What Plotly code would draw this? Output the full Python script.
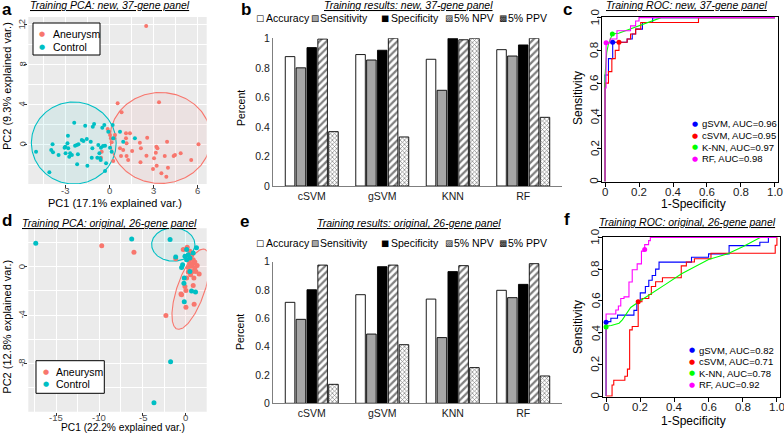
import numpy as np
import plotly.graph_objects as go

W, H = 784, 433

# ------------------------------------------------------------------ data
# (a) Training PCA: new, 37-gene panel
a_aneurysm_pc1 = [2.52, 0.57, 0.84, 3.40, -0.11, 0.0, 0.05, 0.11, 0.16, 0.34, 0.39, 1.14, 1.41, 1.14, 1.18,
                  0.73, 0.95, 0.80, 1.18, 1.56, 2.09, 2.16, 2.13, 2.59, 2.54, 3.22, 3.29, 3.18, 3.06, 3.24,
                  2.99, 3.56, 3.90, 3.95, 3.79, 4.01, 4.40, 4.49, 4.88, 5.60, 6.10, -0.52, -0.57, 0.27, 1.29]
a_aneurysm_pc2 = [11.8, 4.07, 3.17, 4.17, 1.5, 1.23, 0.9, 0.57, 0.17, 0.57, 0.9, 1.07, 1.07, 0.57, 0.07,
                  -0.43, -0.6, -1.2, -1.2, -0.7, 0.13, -0.43, -1.83, 0.63, -1.17, -0.27, -0.43, -0.87, -1.43, -2.17,
                  -2.5, -2.93, -3.27, 0.23, -1.2, -2.37, -1.2, -1.1, -0.93, -1.6, -0.03, -0.77, -1.37, -1.7, -1.6]
a_control_pc1 = [-5.01, -4.10, -3.88, -3.97, -3.85, -3.47, -3.06, -3.01, -2.83, -2.86, -2.81, -2.99, -2.68,
                 -2.74, -2.56, -2.34, -2.22, -2.11, -2.15, -2.20, -1.88, -1.77, -1.54, -1.27, -1.50, -2.40,
                 -1.65, -1.13, -1.04, -0.48, -0.34, -1.16, -1.20, -0.75, -0.82, -0.63, -0.59, -0.57, -0.43,
                 -0.29, -0.22, -0.29, 0.05, 0.23, 0.27, 0.73, 0.95, 1.75, -0.68, -0.07, 0.16]
a_control_pc2 = [-0.77, -2.83, -0.03, -0.6, -0.83, -1.1, -0.37, -0.27, 0.83, 0.07, -0.43, -0.93, -0.93,
                 -1.27, -1.1, -0.17, -0.1, -0.03, -1.03, -2.03, 0.4, 0.3, 0.5, 0.23, -2.17, 2.13,
                 1.83, 1.73, 2.0, 1.63, 1.9, -0.43, -1.37, -0.1, -1.37, -1.43, -1.6, -0.37, -0.2,
                 -0.17, -1.93, -2.7, -0.37, 1.9, 0.57, 1.23, 0.23, 0.57, -0.93, 1.23, -0.77]
# ellipse: centre x, centre y, axis-1 vector (x, y), axis-2 vector (x, y)
a_ellipse_aneurysm = [3.5, 0.6, 3.45, 0.0, 0.0, 4.55]
a_ellipse_control = [-2.43, 0.1, 2.9, 0.0, 0.0, 4.1]
a_xticks = [-3, 0, 3, 6]
a_yticks = [0, 4, 8, 12]

# (d) Training PCA: original, 26-gene panel
d_aneurysm_pc1 = [-9.72, -6.0, -2.31, -1.18, -0.31, 0.15, 0.46, 0.65, 0.38, 0.84, 1.03, 0.46, 0.77, 0.27,
                  0.65, 1.03, 1.30, 1.53, 0.77, 0.27, 0.92, 0.08, -0.11, 0.0, -0.50, 0.84, 0.0, 0.95,
                  1.15, 0.54, -0.57]
d_aneurysm_pc2 = [1.74, 1.19, -4.03, 0.65, 1.42, 1.61, 1.28, 0.94, 0.5, 0.58, 0.39, 0.22, 0.22, -0.06,
                  0.03, -0.11, 0.11, -0.61, -0.39, -0.44, -0.94, -0.94, -1.64, -1.97, -2.33, -1.56, -3.36, -3.11,
                  -0.39, -0.67, -2.25]
d_control_pc1 = [-17.34, -6.26, -1.77, -3.69, -1.83, -1.18, 0.08, 0.27, -0.11, 0.46, 0.84, 1.22, -0.50,
                 -0.38, -0.19, -0.23, 0.65, 1.11, -0.19, 0.08, 0.46]
d_control_pc2 = [1.94, 2.29, -7.86, -11.26, 2.25, 0.80, 1.42, 1.0, 0.86, 0.72, 1.14, 1.56, -0.06,
                 0.17, -0.94, -1.36, -2.0, -2.1, -2.89, 0.58, -0.39]
d_ellipse_aneurysm = [0.58, -1.86, 1.6, 3.3, 1.5, -0.38]
d_ellipse_control = [-1.46, 1.84, 2.5, 0.0, 0.0, 1.38]
d_xticks = [-15, -10, -5, 0]
d_yticks = [-8, -4, 0]

# (b, e) Training results
models = ["cSVM", "gSVM", "KNN", "RF"]
metrics = ["Accuracy", "Sensitivity", "Specificity", "5% NPV", "5% PPV"]
b_accuracy = [0.876, 0.89, 0.858, 0.923]
b_sensitivity = [0.80, 0.853, 0.648, 0.88]
b_specificity = [0.937, 0.919, 1.0, 0.955]
b_npv = [0.995, 1.0, 0.99, 1.0]
b_ppv = [0.368, 0.332, 1.0, 0.465]
e_accuracy = [0.713, 0.767, 0.736, 0.798]
e_sensitivity = [0.593, 0.489, 0.464, 0.746]
e_specificity = [0.802, 0.965, 0.93, 0.84]
e_npv = [0.976, 0.976, 0.972, 0.986]
e_ppv = [0.134, 0.414, 0.252, 0.193]
bar_ticks = [0, 0.2, 0.4, 0.6, 0.8, 1.0]
bar_ticktext = ["0", "0.2", "0.4", "0.6", "0.8", "1"]

# (c, f) Training ROC curves (1-specificity, sensitivity)
roc_names = ["gSVM", "cSVM", "K-NN", "RF"]
c_auc = ["0.96", "0.95", "0.97", "0.98"]
f_auc = ["0.82", "0.71", "0.78", "0.92"]
c_gsvm_fpr = [0, 0, 0.02, 0.02, 0.045, 0.045, 0.13, 0.13, 0.16, 0.16, 0.18, 0.18, 0.22, 0.22, 0.28, 0.28, 1.0]
c_gsvm_tpr = [0, 0.65, 0.65, 0.75, 0.75, 0.85, 0.85, 0.87, 0.87, 0.9, 0.9, 0.93, 0.93, 0.97, 0.97, 1.0, 1.0]
c_csvm_fpr = [0, 0, 0.02, 0.02, 0.04, 0.04, 0.06, 0.06, 0.082, 0.082, 0.13, 0.13, 0.15, 0.15, 0.18, 0.18,
              0.21, 0.21, 0.55, 0.55, 1.0]
c_csvm_tpr = [0, 0.6, 0.6, 0.67, 0.67, 0.75, 0.75, 0.8, 0.8, 0.85, 0.85, 0.87, 0.87, 0.9, 0.9, 0.93,
              0.93, 0.97, 0.97, 1.0, 1.0]
c_knn_fpr = [0, 0, 0.005, 0.01, 0.02, 0.03, 0.043, 0.08, 0.12, 0.16, 0.2, 0.25, 0.3, 0.33, 1.0]
c_knn_tpr = [0, 0.65, 0.72, 0.79, 0.84, 0.87, 0.9, 0.905, 0.92, 0.935, 0.95, 0.97, 0.985, 1.0, 1.0]
c_rf_fpr = [0, 0, 0.006, 0.006, 0.03, 0.03, 0.07, 0.07, 0.15, 0.15, 0.18, 0.18, 0.2, 0.2, 1.0]
c_rf_tpr = [0, 0.57, 0.57, 0.846, 0.846, 0.87, 0.87, 0.92, 0.92, 0.95, 0.95, 0.98, 0.98, 1.0, 1.0]
c_point_fpr = [0.045, 0.082, 0.043, 0.006]
c_point_tpr = [0.85, 0.85, 0.90, 0.846]

f_gsvm_fpr = [0, 0, 0.028, 0.028, 0.067, 0.067, 0.163, 0.163, 0.18, 0.18, 0.2, 0.2, 0.23, 0.23, 0.25, 0.25,
              0.27, 0.27, 0.29, 0.29, 0.31, 0.31, 0.5, 0.5, 0.6, 0.6, 0.72, 0.72, 0.9, 0.9, 0.95, 0.95, 1.0]
f_gsvm_tpr = [0, 0.469, 0.469, 0.49, 0.49, 0.51, 0.51, 0.54, 0.54, 0.6, 0.6, 0.65, 0.65, 0.69, 0.69, 0.73,
              0.73, 0.76, 0.76, 0.8, 0.8, 0.844, 0.844, 0.875, 0.875, 0.896, 0.896, 0.948, 0.948, 0.969, 0.969,
              1.0, 1.0]
f_csvm_fpr = [0, 0.035, 0.035, 0.045, 0.045, 0.11, 0.11, 0.125, 0.125, 0.138, 0.138, 0.153, 0.153, 0.188,
              0.188, 0.21, 0.21, 0.25, 0.25, 0.265, 0.265, 0.29, 0.29, 0.33, 0.33, 0.44, 0.44, 0.47, 0.47,
              0.517, 0.517, 0.614, 0.614, 0.99, 0.99, 1.0, 1.0]
f_csvm_tpr = [0, 0, 0.07, 0.07, 0.1, 0.1, 0.125, 0.125, 0.17, 0.17, 0.417, 0.417, 0.438, 0.438,
              0.594, 0.594, 0.615, 0.615, 0.64, 0.64, 0.69, 0.69, 0.72, 0.72, 0.745, 0.745, 0.82, 0.82, 0.845,
              0.845, 0.865, 0.865, 0.9, 0.9, 0.95, 0.95, 1.0]
f_knn_fpr = [0, 0, 0.03, 0.076, 0.095, 0.115, 0.144, 0.2, 0.249, 0.3, 0.35, 0.442, 0.5, 0.6, 0.712, 0.8, 0.905, 1.0]
f_knn_tpr = [0, 0.44, 0.445, 0.459, 0.48, 0.51, 0.558, 0.6, 0.636, 0.67, 0.705, 0.771, 0.805, 0.86, 0.896,
             0.94, 1.0, 1.0]
f_rf_fpr = [0, 0, 0.057, 0.057, 0.072, 0.072, 0.086, 0.086, 0.105, 0.105, 0.134, 0.134, 0.153, 0.153, 0.182,
            0.182, 0.207, 0.207, 0.226, 0.226, 0.249, 0.249, 0.259, 0.259, 1.0]
f_rf_tpr = [0, 0.517, 0.517, 0.542, 0.542, 0.567, 0.567, 0.615, 0.615, 0.625, 0.625, 0.719, 0.719, 0.796,
            0.796, 0.833, 0.833, 0.913, 0.913, 0.954, 0.954, 0.979, 0.979, 1.0, 1.0]
f_point_fpr = [0.0, 0.188, 0.0, 0.226]
f_point_tpr = [0.465, 0.594, 0.435, 0.923]

roc_ticks = [0, 0.2, 0.4, 0.6, 0.8, 1.0]
roc_ticktext = ["0", "0.2", "0.4", "0.6", "0.8", "1.0"]

# ------------------------------------------------------------------ style
FONT = "Liberation Sans, Arial, sans-serif"
RED_GG, TEAL_GG = "#F8766D", "#00BFC4"
ROC_COLORS = ["#0000FF", "#FF0000", "#00FF00", "#FF00FF"]


def X(p):
    return p / W


def Y(p):
    return 1 - p / H


fig = go.Figure()


def ellipse(par, n=240):
    t = np.linspace(0, 2 * np.pi, n)
    cx, cy, ux, uy, vx, vy = par
    return cx + ux * np.cos(t) + vx * np.sin(t), cy + uy * np.cos(t) + vy * np.sin(t)


def add_pca(xa, ya, ae1, ae2, ce1, ce2, ae, ce, msize):
    for par, col, fillc in [(ce, TEAL_GG, "rgba(0,191,196,0.08)"), (ae, RED_GG, "rgba(248,118,109,0.08)")]:
        ex, ey = ellipse(par)
        fig.add_trace(go.Scatter(x=ex, y=ey, mode="lines", fill="toself", fillcolor=fillc,
                                 line=dict(color=col, width=1.1), xaxis=xa, yaxis=ya,
                                 showlegend=False, hoverinfo="skip"))
    fig.add_trace(go.Scatter(x=ae1, y=ae2, mode="markers", marker=dict(color=RED_GG, size=msize),
                             xaxis=xa, yaxis=ya, showlegend=False))
    fig.add_trace(go.Scatter(x=ce1, y=ce2, mode="markers", marker=dict(color=TEAL_GG, size=msize),
                             xaxis=xa, yaxis=ya, showlegend=False))


add_pca("x", "y", a_aneurysm_pc1, a_aneurysm_pc2, a_control_pc1, a_control_pc2,
        a_ellipse_aneurysm, a_ellipse_control, 4)
add_pca("x4", "y4", d_aneurysm_pc1, d_aneurysm_pc2, d_control_pc1, d_control_pc2,
        d_ellipse_aneurysm, d_ellipse_control, 5)


def bar_styles():
    return [
        dict(color="white", line=dict(color="black", width=0.9)),
        dict(color="#a6a6a6", line=dict(color="black", width=0.9)),
        dict(color="black", line=dict(color="black", width=0.9)),
        dict(color="white", line=dict(color="black", width=0.9),
             pattern=dict(shape="/", fgcolor="black", bgcolor="white", size=5, solidity=0.45)),
        dict(color="white", line=dict(color="black", width=0.9),
             pattern=dict(shape="x", fgcolor="black", bgcolor="white", size=3, solidity=0.4)),
    ]


for xa, ya, series in [("x2", "y2", [b_accuracy, b_sensitivity, b_specificity, b_npv, b_ppv]),
                       ("x5", "y5", [e_accuracy, e_sensitivity, e_specificity, e_npv, e_ppv])]:
    for name, vals, mk in zip(metrics, series, bar_styles()):
        fig.add_trace(go.Bar(x=models, y=vals, name=name, marker=mk, xaxis=xa, yaxis=ya,
                             showlegend=False, cliponaxis=False))

for xa, ya, curves, pfx, pfy in [
    ("x3", "y3", [(c_gsvm_fpr, c_gsvm_tpr), (c_csvm_fpr, c_csvm_tpr), (c_knn_fpr, c_knn_tpr), (c_rf_fpr, c_rf_tpr)],
     c_point_fpr, c_point_tpr),
    ("x6", "y6", [(f_gsvm_fpr, f_gsvm_tpr), (f_csvm_fpr, f_csvm_tpr), (f_knn_fpr, f_knn_tpr), (f_rf_fpr, f_rf_tpr)],
     f_point_fpr, f_point_tpr)]:
    for (fx, fy), col in zip(curves, ROC_COLORS):
        fig.add_trace(go.Scatter(x=fx, y=fy, mode="lines", line=dict(color=col, width=1.1),
                                 xaxis=xa, yaxis=ya, showlegend=False, cliponaxis=False))
    for i, col in enumerate(ROC_COLORS):
        fig.add_trace(go.Scatter(x=[pfx[i]], y=[pfy[i]], mode="markers",
                                 marker=dict(color=col, size=5), xaxis=xa, yaxis=ya,
                                 showlegend=False, cliponaxis=False))

# ------------------------------------------------------------------ axes
layout = dict(width=W, height=H, margin=dict(l=0, r=0, t=0, b=0, autoexpand=False), autosize=False,
              paper_bgcolor="white", plot_bgcolor="white", font=dict(family=FONT, color="black"),
              barmode="group", bargap=0.23, bargroupgap=0.12, showlegend=False)


def pca_axes(xdom, ydom, xr, yr, xt, yt, xminor, yminor, yanchor, xanchor):
    xa = dict(domain=xdom, range=xr, anchor=yanchor, tickvals=xt, showticklabels=False,
              showgrid=True, gridcolor="white", gridwidth=1.1, zeroline=False, showline=False,
              ticks="outside", ticklen=3, tickcolor="#333333",
              minor=dict(showgrid=True, gridcolor="white", gridwidth=0.5, tickvals=xminor))
    ya = dict(domain=ydom, range=yr, anchor=xanchor, tickvals=yt, showticklabels=False,
              showgrid=True, gridcolor="white", gridwidth=1.1, zeroline=False, showline=False,
              ticks="outside", ticklen=3, tickcolor="#333333",
              minor=dict(showgrid=True, gridcolor="white", gridwidth=0.5, tickvals=yminor))
    return xa, ya


layout["xaxis"], layout["yaxis"] = pca_axes([X(28.3), X(206.7)], [Y(184), Y(17)], [-5.54, 6.66], [-4.0, 12.7],
                                             a_xticks, a_yticks, [-4.5, -1.5, 1.5, 4.5],
                                             [-2, 2, 6, 10], "y", "x")
layout["xaxis4"], layout["yaxis4"] = pca_axes([X(28.3), X(206.7)], [Y(411.7), Y(228.3)], [-18.2, 2.4],
                                              [-12.0, 3.18], d_xticks, d_yticks,
                                              [-17.5, -12.5, -7.5, -2.5], [-10, -6, -2, 2], "y4", "x4")


def bar_axes(ydom, yanchor, xanchor):
    xa = dict(domain=[X(273), X(562)], type="category", range=[-0.55, 3.55], anchor=yanchor,
              showline=True, linecolor="#7f7f7f", linewidth=1, ticks="", showgrid=False, zeroline=False,
              tickfont=dict(size=10.5, color="#1a1a1a"))
    ya = dict(domain=ydom, range=[0, 1.0], anchor=xanchor, tickvals=bar_ticks, ticktext=bar_ticktext,
              showline=True, linecolor="#7f7f7f", linewidth=1, ticks="", showgrid=False, zeroline=False,
              tickfont=dict(size=10.5, color="#1a1a1a"))
    return xa, ya


layout["xaxis2"], layout["yaxis2"] = bar_axes([Y(186), Y(38.3)], "y2", "x2")
layout["xaxis5"], layout["yaxis5"] = bar_axes([Y(403.3), Y(261.7)], "y5", "x5")


def roc_axes(xdom, ydom, yanchor, xanchor):
    xa = dict(domain=xdom, range=[-0.018, 1.018], anchor=yanchor, tickvals=roc_ticks, showticklabels=False,
              showline=True, mirror=True, linecolor="black", linewidth=1, ticks="outside", ticklen=4,
              tickcolor="black", showgrid=False, zeroline=False)
    ya = dict(domain=ydom, range=[-0.004, 1.004], anchor=xanchor, tickvals=roc_ticks, showticklabels=False,
              showline=True, mirror=True, linecolor="black", linewidth=1, ticks="outside", ticklen=4,
              tickcolor="black", showgrid=False, zeroline=False)
    return xa, ya


layout["xaxis3"], layout["yaxis3"] = roc_axes([X(602), X(778)], [Y(182), Y(17)], "y3", "x3")
layout["xaxis6"], layout["yaxis6"] = roc_axes([X(603), X(780)], [Y(396.7), Y(236.7)], "y6", "x6")

fig.update_layout(**layout)

# ------------------------------------------------------------------ shapes (panel backgrounds, legend boxes)
shapes = []
for xa, ya in [("x", "y"), ("x4", "y4")]:
    shapes.append(dict(type="rect", xref=f"{xa} domain", yref=f"{ya} domain", x0=0, x1=1, y0=0, y1=1,
                       fillcolor="#EBEBEB", line=dict(width=0), layer="below"))
for (x0, y0, x1, y1) in [(33, 23, 100, 55), (36, 360.7, 104.3, 393.3)]:
    shapes.append(dict(type="rect", xref="paper", yref="paper", x0=X(x0), x1=X(x1), y0=Y(y1), y1=Y(y0),
                       fillcolor="white", line=dict(color="black", width=1), layer="above"))
fig.update_layout(shapes=shapes)

# ------------------------------------------------------------------ annotations
ann = []


def txt(x, y, s, size, xanchor="center", angle=0, color="black", family=FONT, xref="paper"):
    xv = X(x) if xref == "paper" else x
    ann.append(dict(x=xv, y=Y(y), xref=xref, yref="paper", text=s, showarrow=False,
                    xanchor=xanchor, yanchor="middle", textangle=angle,
                    font=dict(size=size, color=color, family=family)))


def yaxis_to_paper(axname, v):
    ax = layout[axname]
    d0, d1 = ax["domain"]
    r0, r1 = ax["range"]
    return d0 + (v - r0) / (r1 - r0) * (d1 - d0)


def ytick(axname, xpx, v, s, size, color):
    ann.append(dict(x=X(xpx), y=yaxis_to_paper(axname, v), xref="paper", yref="paper", text=s,
                    showarrow=False, xanchor="center", yanchor="middle", textangle=-90,
                    font=dict(size=size, color=color, family=FONT)))


# tick labels
for v in a_xticks:
    txt(v, 190.5, str(v), 9.5, color="#4d4d4d", xref="x")
for v in a_yticks:
    ytick("yaxis", 21.5, v, str(v), 9.5, "#4d4d4d")
for v in d_xticks:
    txt(v, 417.2, str(v), 9.5, color="#4d4d4d", xref="x4")
for v in d_yticks:
    ytick("yaxis4", 21.5, v, str(v), 9.5, "#4d4d4d")
for xr_, yname, ylab, xlab in [("x3", "yaxis3", 192, 594.5), ("x6", "yaxis6", 406.5, 595.5)]:
    for v, s in zip(roc_ticks, roc_ticktext):
        txt(v, ylab, s, 11.5, color="#1a1a1a", xref=xr_)
        ytick(yname, xlab, v, s, 11.5, "#1a1a1a")

# panel letters
for letter, (lx, ly) in zip("abcdef", [(7, 9), (246, 9), (567, 9), (7, 220), (244, 221), (567, 219)]):
    txt(lx, ly, f"<b>{letter}</b>", 17)

# titles
titles = [(110, 5, "Training PCA: new, 37-gene panel"),
          (409, 5, "Training results: new, 37-gene panel"),
          (687, 5, "Training ROC: new, 37-gene panel"),
          (110, 222.7, "Training PCA: original, 26-gene panel"),
          (409, 223, "Training results: original, 26-gene panel"),
          (687, 222, "Training ROC: original, 26-gene panel")]
for tx, ty, s in titles:
    txt(tx, ty, f"<i><u>{s}</u></i>", 10.5)

# PCA axis titles
txt(115, 202.5, "PC1 (17.1% explained var.)", 11)
txt(7, 86, "PC2 (9.3% explained var.)", 11, angle=-90)
txt(123, 427.6, "PC1 (22.2% explained var.)", 10.2)
txt(7, 326.7, "PC2 (12.8% explained var.)", 11, angle=-90)

# PCA legends
for (mx, tx, ys) in [(42.3, 50.5, (34.3, 47.3)), (45.7, 54, (371.7, 384.3))]:
    for yv, name, col in zip(ys, ["Aneurysm", "Control"], [RED_GG, TEAL_GG]):
        txt(mx, yv, "●", 7, color=col, family="DejaVu Sans")
        txt(tx, yv, name, 10.5, xanchor="left")

# bar charts: axis titles + legends
txt(241, 108, "Percent", 10.5, angle=-90)
txt(240, 332, "Percent", 10.5, angle=-90)
legend_keys = [(260, 263.5), (314.5, 318), (384.5, 389), (448.5, 452), (502.5, 506)]
key_glyphs = ["□", "■", "■", "▨", "▩"]
key_colors = ["black", "#a6a6a6", "black", "black", "black"]
for ly in (18, 243):
    for (kx, tx), name, g, kc in zip(legend_keys, metrics, key_glyphs, key_colors):
        txt(kx, ly, g, 8.5, color=kc, family="DejaVu Sans")
        if kc != "black":
            txt(kx, ly, "□", 8.5, color="black", family="DejaVu Sans")
        txt(tx, ly, name, 10.5, xanchor="left")

# ROC axis titles + legends
txt(578, 98, "Sensitivity", 12, angle=-90)
txt(693, 204.5, "1-Specificity", 12)
txt(578, 327, "Sensitivity", 12, angle=-90)
txt(693, 420.5, "1-Specificity", 12)
for ys, mx, tx, aucs in [((124, 135.5, 147, 158.5), 695, 700, c_auc), ((350, 361.5, 373, 384.5), 692, 697, f_auc)]:
    for yv, name, auc, col in zip(ys, roc_names, aucs, ROC_COLORS):
        txt(mx, yv, "●", 7, color=col, family="DejaVu Sans")
        txt(tx, yv, f"{name}, AUC={auc}", 9.5, xanchor="left")

fig.update_layout(annotations=ann)
fig.write_html("out.html", config={"displayModeBar": False},
               post_script="document.body.style.margin='0px';document.body.style.overflow='hidden';")
